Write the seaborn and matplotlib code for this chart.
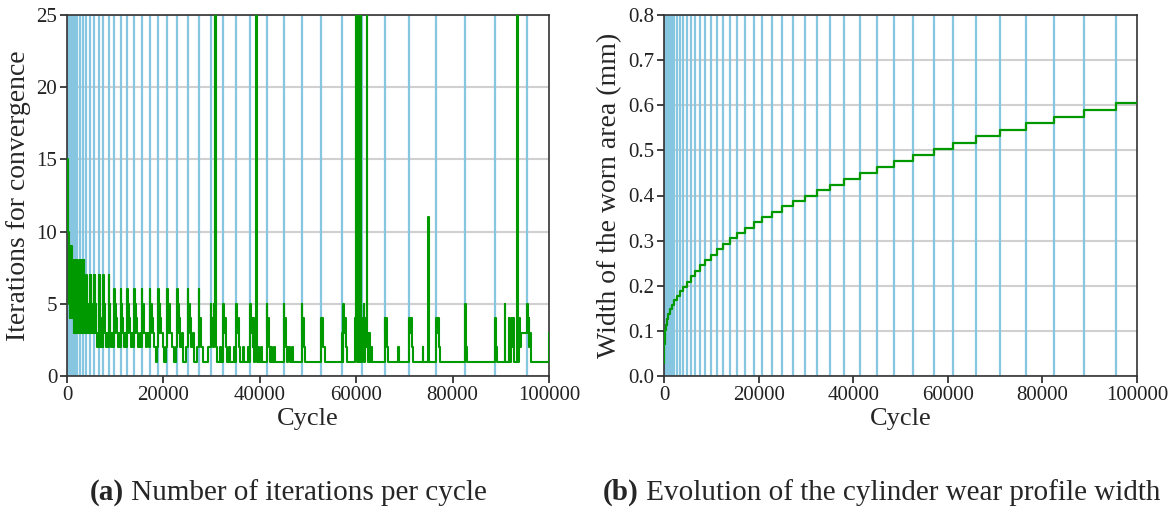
import matplotlib
matplotlib.use('Agg')
import matplotlib.pyplot as plt
import seaborn as sns

# cycles where the mesh was rebuilt (blue vertical lines, both panels)
remesh_cycles = [25, 70, 150, 270, 440, 660, 940, 1280, 1690, 2170, 2720, 3340,
                 4020, 4790, 5620, 6590, 7560, 8670, 9850, 11100, 12480, 13940,
                 15460, 17130, 18930, 20800, 22820, 25030, 27320, 29820, 32450,
                 35160, 38070, 41400, 44940, 48680, 52700, 57000, 61170, 65880,
                 71010, 76630, 82530, 88770, 95490]

# width of the worn area (mm), value held from 0 and from each remesh cycle
wear_width = [0.028, 0.052, 0.071, 0.087, 0.101, 0.114, 0.126, 0.137, 0.148,
              0.158, 0.168, 0.178, 0.188, 0.198, 0.209, 0.221, 0.233, 0.245,
              0.257, 0.269, 0.281, 0.293, 0.305, 0.317, 0.329, 0.341, 0.352,
              0.364, 0.376, 0.388, 0.400, 0.412, 0.424, 0.437, 0.450, 0.463,
              0.476, 0.489, 0.503, 0.517, 0.531, 0.545, 0.560, 0.575, 0.590,
              0.605]

# iterations for convergence: change points (cycle, value), held until next
iter_cycle = [
    0, 150, 300, 400, 480, 560, 640, 720, 800, 880, 960, 1040, 1120, 1200,
    1280, 1330, 1380, 1430, 1490, 1550, 1620, 1690, 1750, 1810,
    1870, 1940, 2010, 2090, 2170, 2230, 2300, 2370, 2450, 2530, 2620, 2720,
    2790, 2870, 2950, 3040, 3130, 3230, 3340, 3410, 3490, 3580, 3680, 3780,
    3900,
    4020, 4080, 4150, 4220, 4300, 4380, 4480, 4600,
    4790, 4850, 4920, 5000, 5100, 5200, 5350, 5450,
    5620, 5690, 5780, 5870, 5980, 6100, 6250, 6400,
    6590, 6660, 6750, 6850, 6960, 7100, 7250, 7400,
    7560, 7640, 7740, 7850, 7980, 8150, 8350, 8500,
    8670, 8760, 8860, 8980, 9150, 9400, 9600,
    9850, 9950, 10050, 10150, 10300, 10600, 10800, 10950,
    11100, 11200, 11320, 11450, 11600, 11900, 12100, 12300,
    12480, 12580, 12700, 12850, 13000, 13300, 13550, 13750,
    13940, 14050, 14180, 14330, 14500, 14800, 15050, 15250,
    15460, 15580, 15720, 15880, 16050, 16400, 16700, 16950,
    17130, 17260, 17400, 17560, 17750, 18100, 18500, 18700,
    18930, 19050, 19200, 19350, 19550, 19900, 20200, 20550,
    20800, 20930, 21100, 21270, 21450, 21800, 22200, 22550,
    22820, 22960, 23130, 23300, 23500, 23900, 24100, 24700,
    25030, 25180, 25350, 25550, 25750, 26100, 26300, 26900,
    27320, 27480, 27650, 27850, 28200, 29300,
    29820, 29950, 30100, 30250, 30400, 30550, 30650, 30720, 30850, 30950,
    31150, 31700, 32000,
    32450, 32600, 32750, 32900, 33100, 33600, 33900, 34600, 34850,
    35160, 35320, 35480, 35650, 35900, 36500, 36800, 37600, 37800,
    38070, 38200, 38350, 38500, 38650, 38800, 39000, 39200, 39350, 39500,
    39700, 39900, 40300, 40500,
    41400, 41550, 41700, 41850, 42050, 42300, 42600, 42900, 43100,
    44940, 45100, 45250, 45400, 45650, 45900, 46200, 46600, 46800,
    48680, 48850, 49000, 49200, 49450,
    52700, 52850, 53000, 53200, 53500,
    57000, 57200, 57350, 57500, 57650, 57800, 58000, 59800, 59900, 60000,
    60100, 60200, 60300, 60400, 60500, 60650, 60750, 60900, 61000,
    61170, 61300, 61450, 61550, 61700, 61850, 62000, 62200, 62300, 62450,
    62650, 62800, 63100, 63300,
    65880, 66050, 66200, 66350, 66550, 68700, 68800,
    71010, 71200, 71350, 71500, 71700, 73800, 73950, 74900, 75000,
    76630, 76800, 76950, 77100, 77300,
    82530, 82700, 82850, 83000,
    88770, 88950, 89100, 89300, 90800, 90950, 91600, 91750, 92200, 92350,
    92500, 92650, 93400, 93550, 93800, 93950, 94200,
    95490, 95650, 95800, 95950, 96150, 96300, 99900, 100000]
iter_value = [
    15, 13, 10, 9, 5, 9, 4, 9, 6, 9, 4, 8, 5, 8,
    4, 8, 3, 8, 4, 7, 3, 8, 3, 8,
    4, 7, 3, 5, 8, 3, 8, 4, 7, 3, 5, 8,
    3, 8, 4, 6, 3, 5, 8, 3, 8, 4, 6, 3,
    4,
    7, 3, 7, 4, 5, 3, 4, 3,
    7, 3, 7, 4, 5, 3, 4, 3,
    7, 3, 7, 4, 5, 3, 2, 3,
    7, 2, 7, 4, 3, 2, 3, 2,
    7, 3, 5, 4, 3, 2, 3, 2,
    7, 3, 5, 3, 2, 3, 2,
    6, 3, 5, 4, 3, 2, 3, 2,
    6, 3, 5, 4, 3, 2, 3, 2,
    6, 3, 5, 4, 3, 2, 3, 2,
    6, 3, 5, 4, 3, 2, 3, 2,
    6, 3, 5, 4, 3, 2, 3, 2,
    6, 3, 5, 4, 3, 2, 1, 2,
    6, 3, 5, 4, 3, 2, 1, 2,
    6, 3, 5, 4, 3, 2, 1, 2,
    6, 3, 5, 4, 2, 3, 1, 2,
    6, 3, 5, 4, 2, 3, 1, 2,
    6, 3, 4, 2, 1, 2,
    5, 3, 4, 2, 5, 3, 30, 4, 30, 2,
    1, 2, 1,
    5, 3, 4, 2, 1, 2, 1, 2, 1,
    5, 3, 4, 2, 1, 2, 1, 2, 1,
    5, 3, 4, 2, 4, 1, 3, 30, 2, 1,
    2, 1, 2, 1,
    5, 3, 4, 2, 1, 2, 1, 2, 1,
    5, 3, 4, 2, 1, 2, 1, 2, 1,
    5, 3, 4, 2, 1,
    4, 3, 4, 2, 1,
    3, 1, 5, 3, 4, 2, 1, 4, 30, 2,
    30, 1, 30, 3, 30, 1, 30, 4, 1,
    4, 2, 3, 5, 1, 4, 2, 30, 3, 1,
    3, 1, 2, 1,
    4, 3, 4, 2, 1, 2, 1,
    4, 3, 4, 2, 1, 2, 1, 11, 1,
    4, 3, 4, 2, 1,
    5, 4, 2, 1,
    4, 3, 2, 1, 5, 1, 4, 1, 4, 2,
    4, 1, 30, 1, 4, 2, 3,
    5, 3, 4, 2, 3, 1, 3, 3]

wear_x = [0] + remesh_cycles + [100000]
wear_y = wear_width + [wear_width[-1]]

sns.set_theme(style='ticks')
plt.rcParams['font.family'] = ['Liberation Serif', 'DejaVu Serif']

LINE_BLUE = '#87c6e0'
GREEN = '#009a00'


def style_axes(ax, ylabel):
    ax.set_xlim(0, 100000)
    ax.set_xlabel('Cycle', fontsize=19, labelpad=2)
    ax.set_ylabel(ylabel, fontsize=20, labelpad=4)
    ax.set_xticks([0, 20000, 40000, 60000, 80000, 100000])
    ax.tick_params(labelsize=15, length=5, width=1.2, colors='#222222', pad=2)
    ax.yaxis.grid(True, color='#d0d0d0', lw=1.5)
    ax.set_axisbelow(True)
    for s in ax.spines.values():
        s.set_color('#333333')
        s.set_linewidth(1.2)


fig = plt.figure(figsize=(11.7, 5.17), dpi=100)
ax1 = fig.add_axes([67 / 1170, 1 - 376 / 517, 482 / 1170, 361 / 517])
ax2 = fig.add_axes([664 / 1170, 1 - 376 / 517, 473 / 1170, 361 / 517])

for ax in (ax1, ax2):
    for c in remesh_cycles:
        ax.axvline(c, color=LINE_BLUE, lw=1.6, zorder=1)

sns.lineplot(x=iter_cycle, y=iter_value, ax=ax1, drawstyle='steps-post',
             color=GREEN, lw=1.5, estimator=None, zorder=3)
ax1.set_ylim(0, 25)
ax1.set_yticks([0, 5, 10, 15, 20, 25])
style_axes(ax1, 'Iterations for convergence')

sns.lineplot(x=wear_x, y=wear_y, ax=ax2, drawstyle='steps-post',
             color=GREEN, lw=1.6, estimator=None, zorder=3)
ax2.set_ylim(0, 0.8)
ax2.set_yticks([0.0, 0.1, 0.2, 0.3, 0.4, 0.5, 0.6, 0.7, 0.8])
ax2.set_yticklabels(['0.0', '0.1', '0.2', '0.3', '0.4', '0.5', '0.6', '0.7', '0.8'])
style_axes(ax2, 'Width of the worn area (mm)')

# captions with bold panel letter
fig.canvas.draw()
renderer = fig.canvas.get_renderer()
for x0, tag, text in [(90, '(a)', ' Number of iterations per cycle'),
                      (603, '(b)', ' Evolution of the cylinder wear profile width')]:
    t = fig.text(x0 / 1170, 1 - 500 / 517, tag, fontsize=21, fontweight='bold',
                 ha='left', va='baseline')
    bb = t.get_window_extent(renderer)
    fig.text(bb.x1 / fig.bbox.width, 1 - 500 / 517, text, fontsize=21,
             ha='left', va='baseline')

fig.savefig('out.png', dpi=100)
